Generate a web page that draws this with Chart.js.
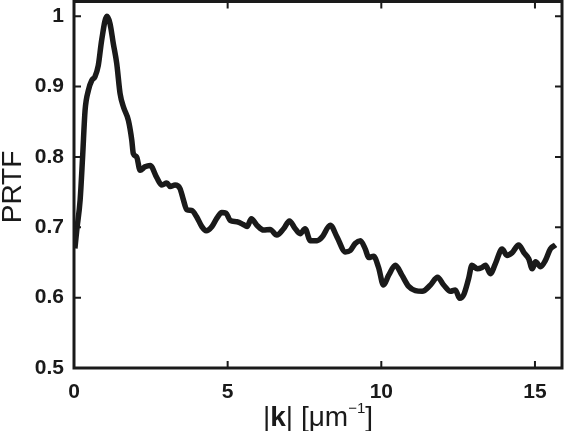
<!DOCTYPE html>
<html>
<head>
<meta charset="utf-8">
<script src="https://cdn.jsdelivr.net/npm/chart.js@4/dist/chart.umd.min.js"></script>
<style>
  html, body { margin: 0; padding: 0; background: #fff; }
  #wrap { width: 566px; height: 431px; }
</style>
</head>
<body>
<div id="wrap"><canvas id="myChart" width="566" height="431"></canvas></div>
<script>
// values
var kValues = [0.03, 0.09, 0.20, 0.28, 0.36, 0.47, 0.58, 0.68, 0.79, 0.90,
    1.07, 1.17, 1.28, 1.39, 1.50, 1.61, 1.77, 1.88, 1.93, 2.04,
    2.15, 2.31, 2.48, 2.69, 2.86, 3.02, 3.13, 3.29, 3.45, 3.56,
    3.67, 3.83, 3.99, 4.16, 4.30, 4.49, 4.65, 4.81, 4.95, 5.08,
    5.30, 5.51, 5.63, 5.77, 5.95, 6.17, 6.38, 6.60, 6.82, 7.01,
    7.20, 7.36, 7.52, 7.69, 7.91, 8.07, 8.34, 8.56, 8.83, 8.99,
    9.15, 9.32, 9.48, 9.59, 9.75, 9.91, 10.07, 10.24, 10.46, 10.67,
    10.89, 11.11, 11.33, 11.60, 11.83, 12.03, 12.25, 12.41, 12.55, 12.68,
    12.84, 12.95, 13.12, 13.28, 13.39, 13.55, 13.71, 13.93, 14.09, 14.26,
    14.47, 14.64, 14.80, 14.91, 15.02, 15.18, 15.34, 15.50, 15.67];
var prtfValues = [0.670, 0.696, 0.739, 0.800, 0.866, 0.895, 0.909, 0.914, 0.930, 0.966,
    1.000, 0.990, 0.961, 0.933, 0.890, 0.871, 0.852, 0.824, 0.805, 0.800,
    0.781, 0.786, 0.788, 0.771, 0.760, 0.763, 0.758, 0.760, 0.755, 0.739,
    0.725, 0.724, 0.715, 0.701, 0.695, 0.701, 0.713, 0.721, 0.720, 0.710,
    0.708, 0.704, 0.701, 0.712, 0.703, 0.696, 0.697, 0.689, 0.698, 0.709,
    0.698, 0.691, 0.698, 0.681, 0.681, 0.686, 0.703, 0.686, 0.665, 0.667,
    0.677, 0.681, 0.669, 0.657, 0.659, 0.643, 0.618, 0.632, 0.646, 0.632,
    0.616, 0.610, 0.609, 0.618, 0.629, 0.618, 0.609, 0.611, 0.599, 0.604,
    0.627, 0.646, 0.641, 0.643, 0.646, 0.634, 0.648, 0.669, 0.660, 0.664,
    0.675, 0.664, 0.655, 0.641, 0.651, 0.644, 0.653, 0.669, 0.675];
var xTicks = [0, 5, 10, 15];
var yTicks = [0.5, 0.6, 0.7, 0.8, 0.9, 1];

var FONT = '"Liberation Sans", Arial, Helvetica, sans-serif';
var INK = '#1a1a1a';

// matlab style box, inward ticks and the axis titles
var framePlugin = {
    id: 'frame',
    afterDraw: function (chart) {
        var ctx = chart.ctx;
        var a = chart.chartArea;
        var x = chart.scales.x, y = chart.scales.y;
        ctx.save();
        ctx.strokeStyle = INK;
        ctx.lineWidth = 3;
        ctx.strokeRect(a.left, a.top, a.right - a.left, a.bottom - a.top);
        ctx.lineWidth = 2;
        ctx.beginPath();
        x.ticks.forEach(function (t) {
            var px = x.getPixelForValue(t.value);
            ctx.moveTo(px, a.bottom); ctx.lineTo(px, a.bottom - 7);
            ctx.moveTo(px, a.top); ctx.lineTo(px, a.top + 7);
        });
        y.ticks.forEach(function (t) {
            var py = y.getPixelForValue(t.value);
            ctx.moveTo(a.left, py); ctx.lineTo(a.left + 7, py);
            ctx.moveTo(a.right, py); ctx.lineTo(a.right - 7, py);
        });
        ctx.stroke();

        ctx.fillStyle = INK;
        // y title
        ctx.save();
        ctx.translate(13, 187);
        ctx.rotate(-Math.PI / 2);
        ctx.font = '28px ' + FONT;
        ctx.textAlign = 'center';
        ctx.textBaseline = 'middle';
        ctx.fillText('PRTF', 0, 0);
        ctx.restore();

        // x title: |k| [μm^-1] with bold k and superscript
        var parts = [
            { t: '|', f: '28px ' + FONT, dy: 0 },
            { t: 'k', f: 'bold 28px ' + FONT, dy: 0 },
            { t: '| [\u03bcm', f: '28px ' + FONT, dy: 0 },
            { t: '\u22121', f: '15px ' + FONT, dy: -13 },
            { t: ']', f: '28px ' + FONT, dy: 0 }
        ];
        var total = 0;
        parts.forEach(function (p) { ctx.font = p.f; p.w = ctx.measureText(p.t).width; total += p.w; });
        var cx = (a.left + a.right) / 2 - total / 2;
        var base = 426;
        ctx.textAlign = 'left';
        ctx.textBaseline = 'alphabetic';
        parts.forEach(function (p) {
            ctx.font = p.f;
            ctx.fillText(p.t, cx, base + p.dy);
            cx += p.w;
        });
        ctx.restore();
    }
};

function plainLabel(v) { return String(v); }

new Chart(document.querySelector('#myChart'), {
    type: 'line',
    data: {
        datasets: [{
            data: kValues.map(function (k, i) { return { x: k, y: prtfValues[i] }; }),
            borderColor: INK,
            borderWidth: 5.5,
            pointRadius: 0,
            cubicInterpolationMode: 'monotone',
            fill: false
        }]
    },
    options: {
        responsive: false,
        animation: false,
        layout: { padding: { top: 1.5, right: 4, left: 0, bottom: 0 } },
        plugins: { legend: { display: false }, tooltip: { enabled: false } },
        scales: {
            x: {
                type: 'linear',
                min: 0,
                max: 15.88,
                afterBuildTicks: function (s) { s.ticks = xTicks.map(function (v) { return { value: v }; }); },
                afterFit: function (s) { s.height = 63; s.paddingLeft = 0; s.paddingRight = 0; },
                grid: { display: false, drawTicks: false },
                border: { display: false },
                ticks: {
                    color: INK,
                    padding: 12,
                    maxRotation: 0,
                    callback: plainLabel,
                    font: { family: FONT, size: 21, weight: 'bold' }
                }
            },
            y: {
                min: 0.5,
                max: 1.021,
                afterBuildTicks: function (s) { s.ticks = yTicks.map(function (v) { return { value: v }; }); },
                afterFit: function (s) { s.width = 74; s.paddingTop = 0; s.paddingBottom = 0; },
                grid: { display: false, drawTicks: false },
                border: { display: false },
                ticks: {
                    color: INK,
                    padding: 10,
                    callback: plainLabel,
                    font: { family: FONT, size: 21, weight: 'bold' }
                }
            }
        }
    },
    plugins: [framePlugin]
});
</script>
</body>
</html>
